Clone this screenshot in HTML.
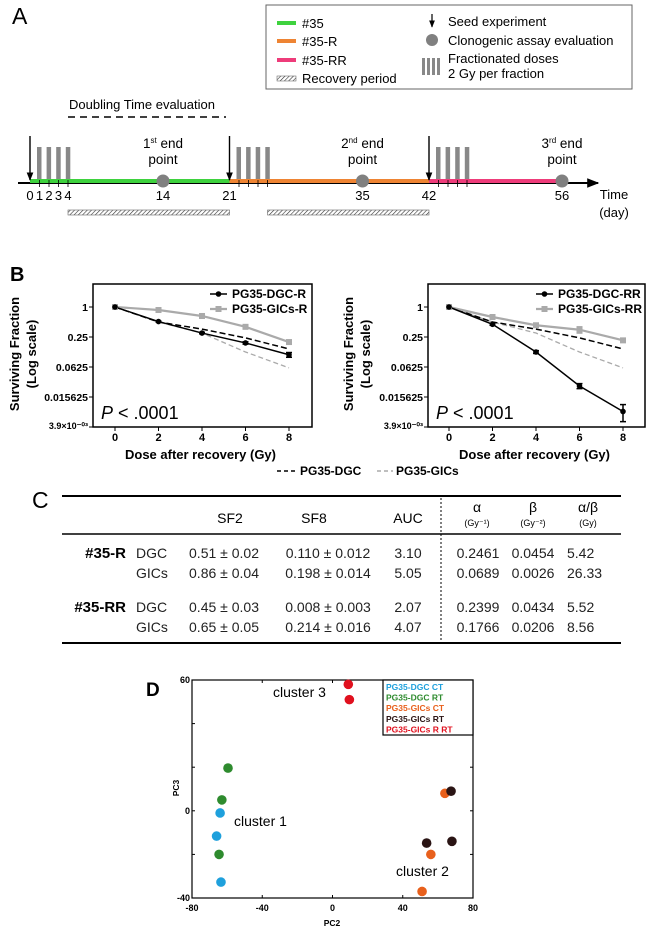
<!DOCTYPE html>
<html><head><meta charset="utf-8"><style>
html,body{margin:0;padding:0;background:#fff;}
svg{display:block;font-family:"Liberation Sans",Arial,sans-serif;}
</style></head><body>
<svg id="fig" width="650" height="936" viewBox="0 0 650 936" xmlns="http://www.w3.org/2000/svg">
<defs>
<pattern id="hatch" width="3" height="3" patternUnits="userSpaceOnUse" patternTransform="rotate(45)"><rect width="3" height="3" fill="#fff"/><line x1="0" y1="0" x2="0" y2="3" stroke="#333" stroke-width="1.2"/></pattern>
<marker id="ah" viewBox="0 0 10 10" refX="9" refY="5" markerWidth="6" markerHeight="6" orient="auto"><path d="M0,1 L10,5 L0,9 z" fill="#000"/></marker>
</defs>

<!-- PANEL A -->
<g>
<text x="12" y="24" font-size="23">A</text>
<g font-size="13">
<rect x="266" y="5" width="366" height="84" fill="#fff" stroke="#666" stroke-width="1"/>
<rect x="277" y="21" width="19" height="4" fill="#3ed23e"/><text x="302" y="28">#35</text>
<rect x="277" y="39" width="19" height="4" fill="#ee8433"/><text x="302" y="46">#35-R</text>
<rect x="277" y="58" width="19" height="4" fill="#ee3c7a"/><text x="302" y="65">#35-RR</text>
<rect x="277" y="76" width="19" height="5" fill="url(#hatch)" stroke="#555" stroke-width="0.5"/><text x="302" y="83">Recovery period</text>
<line x1="432" y1="14" x2="432" y2="27" stroke="#000" stroke-width="1.2" marker-end="url(#ah)"/><text x="448" y="26">Seed experiment</text>
<circle cx="432" cy="40" r="6" fill="#808080"/><text x="448" y="45">Clonogenic assay evaluation</text>
<rect x="422" y="58" width="3" height="17" fill="#888"/><rect x="427" y="58" width="3" height="17" fill="#888"/><rect x="432" y="58" width="3" height="17" fill="#888"/><rect x="437" y="58" width="3" height="17" fill="#888"/>
<text x="448" y="63">Fractionated doses</text><text x="448" y="78">2 Gy per fraction</text>
</g>
<text x="69" y="109" font-size="13">Doubling Time evaluation</text>
<line x1="68" y1="117" x2="226" y2="117" stroke="#000" stroke-width="1.5" stroke-dasharray="7,5"/>
<g id="timeline"></g>
</g>

<!-- PANEL B -->
<g>
<text x="10" y="281" font-size="20" font-weight="bold">B</text>
<g id="plotL"></g>
<g id="plotR"></g>
<g>
<line x1="277" y1="471" x2="297" y2="471" stroke="#000" stroke-width="1.5" stroke-dasharray="4,3"/>
<text x="300" y="475" font-size="12" font-weight="bold">PG35-DGC</text>
<line x1="377" y1="471" x2="393" y2="471" stroke="#aaa" stroke-width="1.5" stroke-dasharray="4,3"/>
<text x="396" y="475" font-size="12" font-weight="bold">PG35-GICs</text>
</g>
</g>

<!-- PANEL C -->
<g font-size="14">
<text x="32" y="508" font-size="23">C</text>
<line x1="62" y1="496" x2="621" y2="496" stroke="#000" stroke-width="2"/>
<line x1="62" y1="534" x2="621" y2="534" stroke="#000" stroke-width="1.5"/>
<line x1="62" y1="643" x2="621" y2="643" stroke="#000" stroke-width="2"/>
<line x1="441" y1="498" x2="441" y2="642" stroke="#000" stroke-width="1" stroke-dasharray="2,2"/>
<g text-anchor="middle">
<text x="230" y="523">SF2</text><text x="314" y="523">SF8</text><text x="408" y="523">AUC</text>
<text x="477" y="512">α</text><text x="477" y="526" font-size="9">(Gy⁻¹)</text>
<text x="533" y="512">β</text><text x="533" y="526" font-size="9">(Gy⁻²)</text>
<text x="588" y="512">α/β</text><text x="588" y="526" font-size="9">(Gy)</text>
</g>
<g id="tbody"></g>
</g>

<!-- PANEL D -->
<g>
<text x="146" y="696" font-size="19" font-weight="bold">D</text>
<g id="pca"></g>
</g>
</svg>
<script>
const NS="http://www.w3.org/2000/svg";
function mk(p,t,a,txt){const e=document.createElementNS(NS,t);for(const k in a)e.setAttribute(k,a[k]);if(txt!==undefined)e.textContent=txt;p.appendChild(e);return e;}

/* ---- Panel A timeline ---- */
const days=[0,1,2,3,4,14,21,35,42,56];
const seedDays=[0,21,42];
const endDays=[14,35,56];
const fracStarts=[0,21,42];
const segDays=[[0,21,"#3ed23e"],[21,42,"#ee8433"],[42,56,"#ee3c7a"]];
const recovery=[[4,21],[25,42]];
const tx=d=>30+9.5*d;
const tl=document.getElementById('timeline');
mk(tl,'line',{x1:18,y1:183,x2:598,y2:183,stroke:'#000','stroke-width':2,'marker-end':'url(#ah)'});
segDays.forEach(s=>{const r=mk(tl,'rect',{x:tx(s[0]),y:179,width:tx(s[1])-tx(s[0]),height:4,fill:s[2]});});
fracStarts.forEach(f=>{for(let i=0;i<4;i++){const r=mk(tl,'rect',{x:tx(f)+7+i*9.6,y:147,width:4.5,height:32,fill:'#888'});}
for(let i=1;i<=4;i++)mk(tl,'line',{x1:tx(f+i),y1:180,x2:tx(f+i),y2:187,stroke:'#000','stroke-width':0.8});});
seedDays.forEach(d=>{const a=mk(tl,'line',{x1:tx(d),y1:136,x2:tx(d),y2:180,stroke:'#000','stroke-width':1.4,'marker-end':'url(#ah)'});});
const ord=['1st','2nd','3rd'];
endDays.forEach((d,i)=>{const c=mk(tl,'circle',{cx:tx(d),cy:181,r:6.5,fill:'#808080'});
const t=mk(tl,'text',{x:tx(d),y:148,'font-size':13.5,'text-anchor':'middle'});
mk(t,'tspan',{},ord[i][0]);mk(t,'tspan',{'font-size':8,dy:-5},ord[i].slice(1));mk(t,'tspan',{dy:5},' end');
mk(tl,'text',{x:tx(d),y:164,'font-size':13.5,'text-anchor':'middle'},'point');});
days.forEach(d=>{const t=mk(tl,'text',{x:tx(d),y:200,'font-size':13,'text-anchor':'middle'},String(d));});
mk(tl,'text',{x:614,y:199,'font-size':13,'text-anchor':'middle'},'Time');
mk(tl,'text',{x:614,y:217,'font-size':13,'text-anchor':'middle'},'(day)');
recovery.forEach(r=>{const h=mk(tl,'rect',{x:tx(r[0]),y:210,width:tx(r[1])-tx(r[0]),height:5,fill:'url(#hatch)',stroke:'#666','stroke-width':0.6});});

/* ---- Panel B survival curves ---- */
const doses=[0,2,4,6,8];
const yTickVals=[1,0.25,0.0625,0.015625,0.00390625];
const yTickLabels=['1','0.25','0.0625','0.015625','3.9×10⁻⁰³'];
const dgcR=[1,0.51,0.30,0.19,0.11];
const dgcRErr=[0,0.01,0.01,0.01,0.012];
const gicR=[1,0.87,0.66,0.40,0.198];
const dgcRR=[1,0.45,0.125,0.026,0.008];
const dgcRRErr=[0,0.02,0.008,0.003,0.003];
const gicRR=[1,0.63,0.43,0.35,0.214];
const gicRRErr=[0,0.02,0.02,0.05,0.01];
const modelDGC=[1,0.5,0.36,0.24,0.144];
const modelGIC=[1,0.5,0.30,0.125,0.06];
function survPlot(id,bx,bw,x0,x1,labx,s1,e1,s2,e2,n1,n2,legX){
 const g=document.getElementById(id);
 const top=284,bot=427;
 const sx=d=>x0+(x1-x0)*d/8, sy=v=>307-15*Math.log2(v);
 mk(g,'rect',{x:bx,y:top,width:bw,height:bot-top,fill:'none',stroke:'#000','stroke-width':1.5});
 yTickVals.forEach((v,i)=>{mk(g,'line',{x1:bx-4,y1:sy(v),x2:bx,y2:sy(v),stroke:'#000'});
  const t=mk(g,'text',{x:bx-5,y:sy(v)+(i==4?2:4),'font-size':i==4?9:10.5,'font-weight':'bold','text-anchor':'end'},yTickLabels[i]);});
 doses.forEach(d=>{mk(g,'line',{x1:sx(d),y1:bot,x2:sx(d),y2:bot+4,stroke:'#000'});
  const t=mk(g,'text',{x:sx(d),y:441,'font-size':11,'font-weight':'bold','text-anchor':'middle'},String(d));});
 const xt=mk(g,'text',{x:(bx+bw/2-2),y:459,'font-size':13,'font-weight':'bold','text-anchor':'middle'},'Dose after recovery (Gy)');
 const yt=mk(g,'text',{transform:`translate(${labx},354) rotate(-90)`,'font-size':13,'font-weight':'bold','text-anchor':'middle'});
 mk(yt,'tspan',{x:0,y:0},'Surviving Fraction');mk(yt,'tspan',{x:0,y:17},'(Log scale)');
 const line=(arr,st,w,da,name)=>{const p=mk(g,'polyline',{points:arr.map((v,i)=>sx(doses[i])+','+sy(v)).join(' '),fill:'none',stroke:st,'stroke-width':w,'stroke-dasharray':da||'none'});};
 line(modelGIC,'#aaa',1.3,'5,3','model-gics-line');
 line(modelDGC,'#000',1.5,'6,3','model-dgc-line');
 line(s2,'#aaa',2.2,null,'gics-line');
 line(s1,'#000',1.5,null,'dgc-line');
 const pts=(arr,err,col,sq,name)=>arr.forEach((v,i)=>{const x=sx(doses[i]),y=sy(v);
  if(err&&err[i]>0){const a=sy(v+err[i]),b=sy(Math.max(v-err[i],1e-4));mk(g,'line',{x1:x,y1:a,x2:x,y2:b,stroke:col,'stroke-width':1.5});mk(g,'line',{x1:x-3,y1:a,x2:x+3,y2:a,stroke:col,'stroke-width':1.5});mk(g,'line',{x1:x-3,y1:b,x2:x+3,y2:b,stroke:col,'stroke-width':1.5});}
  const m=sq?mk(g,'rect',{x:x-3,y:y-3,width:6,height:6,fill:col}):mk(g,'circle',{cx:x,cy:y,r:2.8,fill:col});});
 pts(s2,e2,'#aaa',true,'gics-point');
 pts(s1,e1,'#000',false,'dgc-point');
 mk(g,'line',{x1:legX,y1:294,x2:legX+17,y2:294,stroke:'#000','stroke-width':1.5});mk(g,'circle',{cx:legX+8.5,cy:294,r:2.8});
 mk(g,'text',{x:legX+22,y:298,'font-size':12,'font-weight':'bold'},n1);
 mk(g,'line',{x1:legX,y1:309,x2:legX+17,y2:309,stroke:'#aaa','stroke-width':2.2});mk(g,'rect',{x:legX+5.5,y:306,width:6,height:6,fill:'#aaa'});
 mk(g,'text',{x:legX+22,y:313,'font-size':12,'font-weight':'bold'},n2);
 const pt=mk(g,'text',{x:bx+8,y:419,'font-size':18});
 mk(pt,'tspan',{'font-style':'italic'},'P');mk(pt,'tspan',{},' < .0001');
}
survPlot('plotL',93,219,115,289,19,dgcR,dgcRErr,gicR,null,'PG35-DGC-R','PG35-GICs-R',210);
survPlot('plotR',428,217,449,623,353,dgcRR,dgcRRErr,gicRR,gicRRErr,'PG35-DGC-RR','PG35-GICs-RR',536);

/* ---- Panel C table ---- */
const rowGroups=['#35-R','','#35-RR',''];
const rowCells=['DGC','GICs','DGC','GICs'];
const sf2=['0.51 ± 0.02','0.86 ± 0.04','0.45 ± 0.03','0.65 ± 0.05'];
const sf8=['0.110 ± 0.012','0.198 ± 0.014','0.008 ± 0.003','0.214 ± 0.016'];
const auc=['3.10','5.05','2.07','4.07'];
const alpha=['0.2461','0.0689','0.2399','0.1766'];
const beta=['0.0454','0.0026','0.0434','0.0206'];
const ab=['5.42','26.33','5.52','8.56'];
const rowY=[558,578,612,632];
const tb=document.getElementById('tbody');
rowY.forEach((y,i)=>{const r=mk(tb,'g',{});
 if(rowGroups[i])mk(r,'text',{x:126,y:y,'font-size':15,'font-weight':'bold','text-anchor':'end'},rowGroups[i]);
 mk(r,'text',{x:136,y:y,fill:'#222'},rowCells[i]);
 mk(r,'text',{x:224,y:y,'text-anchor':'middle',fill:'#222'},sf2[i]);
 mk(r,'text',{x:328,y:y,'text-anchor':'middle',fill:'#222'},sf8[i]);
 mk(r,'text',{x:408,y:y,'text-anchor':'middle',fill:'#222'},auc[i]);
 mk(r,'text',{x:478,y:y,'text-anchor':'middle',fill:'#222'},alpha[i]);
 mk(r,'text',{x:533,y:y,'text-anchor':'middle',fill:'#222'},beta[i]);
 mk(r,'text',{x:567,y:y,fill:'#222'},ab[i]);});

/* ---- Panel D PCA ---- */
const groupNames=['PG35-DGC CT','PG35-DGC RT','PG35-GICs CT','PG35-GICs RT','PG35-GICs R RT'];
const groupColors=['#1ea0dc','#2e8b2e','#e8601c','#2a1414','#e0101e'];
const pc2=[[-64,-66,-63.5],[-59.5,-63,-64.6],[64,56,51],[67.5,53.6,68],[9,9.6]];
const pc3=[[-1,-11.6,-32.7],[19.6,5,-20],[8,-20,-37],[9,-14.8,-14],[58,51]];
const xTicks=[-80,-40,0,40,80];
const yTicks=[60,0,-40];
const pg=document.getElementById('pca');
const px=v=>192+(v+80)*281/160, py=v=>680+(60-v)*218/100;
mk(pg,'rect',{x:192,y:680,width:281,height:218,fill:'none',stroke:'#000','stroke-width':1.2});
xTicks.forEach(v=>{mk(pg,'line',{x1:px(v),y1:898,x2:px(v),y2:895,stroke:'#000'});mk(pg,'line',{x1:px(v),y1:680,x2:px(v),y2:683,stroke:'#000'});
 const t=mk(pg,'text',{x:px(v),y:911,'font-size':9,'font-weight':'bold','text-anchor':'middle'},String(v));});
[60,40,20,0,-20,-40].forEach(v=>{mk(pg,'line',{x1:192,y1:py(v),x2:195,y2:py(v),stroke:'#000'});mk(pg,'line',{x1:473,y1:py(v),x2:470,y2:py(v),stroke:'#000'});});
yTicks.forEach(v=>{const t=mk(pg,'text',{x:190,y:py(v)+3,'font-size':9,'font-weight':'bold','text-anchor':'end'},String(v));});
const xl=mk(pg,'text',{x:332,y:926,'font-size':8.5,'font-weight':'bold','text-anchor':'middle'},'PC2');
const yl=mk(pg,'text',{transform:'translate(179,788) rotate(-90)','font-size':8.5,'font-weight':'bold','text-anchor':'middle'},'PC3');
groupNames.forEach((n,gi)=>pc2[gi].forEach((v,i)=>{const c=mk(pg,'circle',{cx:px(v),cy:py(pc3[gi][i]),r:4.8,fill:groupColors[gi]});}));
const lg=mk(pg,'g',{});
mk(lg,'rect',{x:383,y:680,width:90,height:55,fill:'#fff',stroke:'#000','stroke-width':1.2});
groupNames.forEach((n,i)=>mk(lg,'text',{x:386,y:690+i*10.6,'font-size':8.5,'font-weight':'bold',fill:groupColors[i]},n));
[['cluster 3',273,697],['cluster 1',234,826],['cluster 2',396,876]].forEach(c=>{const t=mk(pg,'text',{x:c[1],y:c[2],'font-size':14},c[0]);});
</script>
</body></html>
